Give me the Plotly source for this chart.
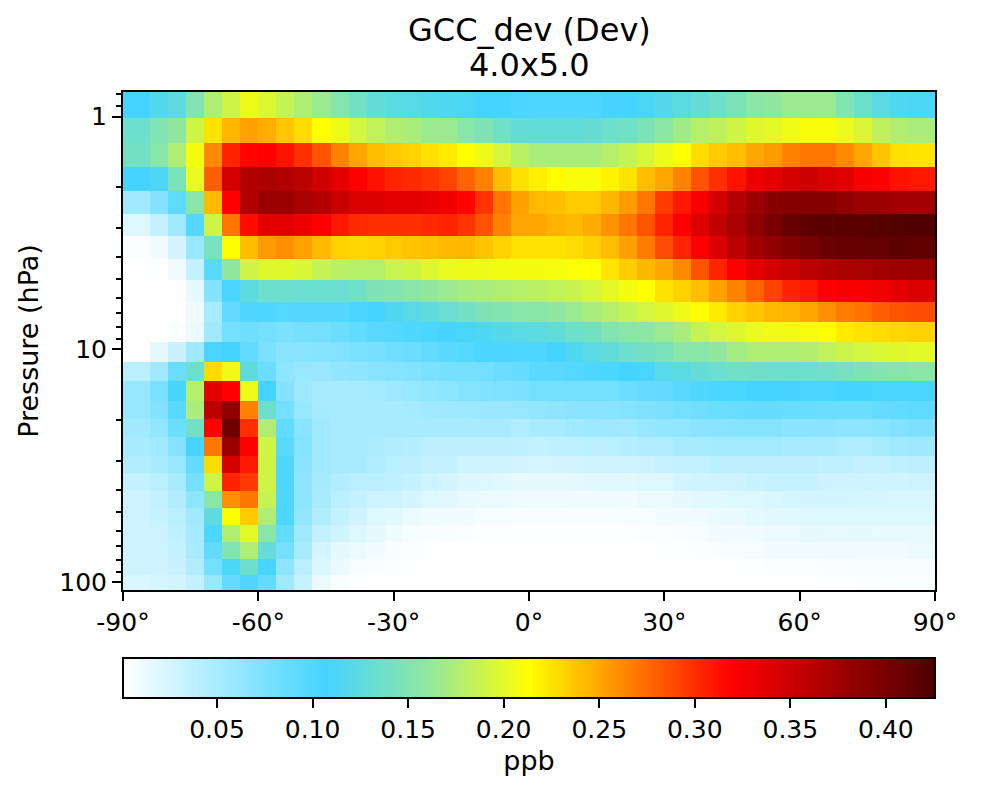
import math
import plotly.graph_objects as go

lat_edges = [-90] + list(range(-84, 85, 4)) + [90]
p_edges = [0.785, 1.015, 1.30, 1.647, 2.088, 2.62, 3.26, 4.09, 5.03, 6.25, 7.62, 9.29, 11.3,
           13.65, 16.6, 19.9, 23.7, 28.6, 33.9, 40.5, 47.9, 56.6, 67.0, 79.3, 92.9, 107.7]

r00 = [.107,.118,.125,.15,.175,.19,.205,.197,.185,.175,.165,.152,.14,.13,.123,.12,.117,.115,.112,.108,.107,.103,
       .10,.10,.10,.102,.106,.107,.112,.118,.124,.13,.137,.146,.157,.16,.165,.165,.165,.15,.135,.122,.115,.112]
r01 = [.135,.15,.16,.19,.225,.243,.252,.247,.237,.228,.213,.205,.192,.183,.175,.172,.165,.165,.155,.148,.138,.13,
       .128,.128,.128,.13,.135,.138,.146,.158,.168,.178,.182,.19,.198,.201,.206,.21,.21,.204,.195,.182,.175,.172]
r02 = [.14,.155,.175,.208,.262,.305,.318,.32,.312,.3,.285,.265,.25,.24,.235,.232,.226,.222,.213,.205,.193,.18,
       .172,.172,.172,.172,.178,.185,.195,.205,.213,.228,.235,.24,.25,.255,.265,.27,.27,.262,.25,.237,.226,.224]
r03 = [.108,.113,.145,.203,.28,.345,.365,.37,.365,.36,.347,.335,.32,.312,.305,.302,.298,.292,.278,.265,.24,.226,
       .22,.214,.21,.21,.218,.225,.24,.25,.265,.285,.30,.312,.33,.335,.345,.348,.342,.338,.325,.32,.312,.31]
r04 = [.055,.07,.092,.155,.242,.32,.365,.38,.38,.372,.365,.352,.343,.34,.335,.335,.333,.327,.318,.298,.27,.252,
       .242,.24,.235,.235,.243,.255,.27,.295,.31,.325,.345,.365,.378,.39,.393,.393,.393,.385,.38,.378,.375,.375]
r05 = [.02,.035,.055,.098,.19,.27,.315,.335,.337,.33,.32,.31,.302,.3,.3,.3,.302,.305,.298,.285,.265,.25,
       .25,.245,.242,.248,.258,.27,.285,.305,.32,.34,.355,.37,.385,.40,.41,.415,.417,.418,.418,.42,.422,.424]
r06 = [.003,.008,.025,.06,.143,.213,.24,.255,.26,.252,.242,.232,.23,.232,.235,.238,.24,.242,.243,.238,.232,.225,
       .225,.225,.228,.233,.24,.253,.268,.288,.305,.32,.34,.36,.375,.385,.395,.40,.408,.41,.412,.413,.415,.413]
r07 = [.001,.002,.008,.035,.095,.16,.19,.198,.198,.195,.185,.18,.178,.178,.187,.19,.197,.203,.205,.205,.207,.208,
       .208,.209,.211,.213,.224,.234,.243,.25,.262,.285,.305,.32,.335,.345,.353,.36,.365,.37,.372,.375,.378,.38]
r08 = [.0008,.001,.002,.015,.07,.105,.125,.135,.135,.133,.133,.133,.138,.148,.15,.155,.16,.165,.17,.172,.175,.178,
       .18,.183,.186,.192,.2,.208,.213,.225,.232,.24,.252,.265,.278,.292,.305,.31,.32,.323,.325,.328,.335,.34]
r09 = [.001,.001,.001,.01,.05,.09,.10,.10,.098,.098,.098,.098,.105,.107,.115,.12,.125,.132,.14,.147,.15,.155,
       .155,.16,.165,.172,.178,.185,.192,.198,.205,.214,.222,.232,.237,.242,.245,.25,.26,.268,.272,.28,.285,.288]
r10 = [.001,.001,.003,.012,.055,.08,.082,.08,.076,.078,.08,.084,.09,.095,.098,.10,.103,.106,.11,.114,.118,.122,
       .125,.128,.135,.14,.15,.155,.158,.165,.172,.185,.192,.197,.203,.206,.207,.209,.213,.222,.225,.228,.23,.232]
r11 = [.001,.015,.032,.055,.105,.108,.09,.075,.068,.068,.07,.072,.075,.078,.082,.084,.09,.094,.098,.104,.103,.10,
       .10,.107,.115,.122,.128,.135,.14,.145,.155,.155,.16,.17,.175,.175,.175,.177,.183,.188,.192,.196,.198,.20]
r12 = [.04,.055,.085,.135,.228,.205,.125,.085,.065,.06,.058,.062,.065,.068,.07,.072,.075,.078,.08,.08,.084,.087,
       .095,.095,.098,.10,.103,.107,.11,.12,.123,.13,.133,.138,.137,.135,.135,.135,.138,.142,.146,.15,.153,.155]
r13 = [.06,.075,.105,.178,.335,.32,.205,.107,.07,.056,.05,.05,.05,.052,.056,.06,.062,.066,.07,.072,.074,.075,
       .08,.08,.08,.08,.08,.085,.088,.09,.095,.10,.103,.105,.107,.108,.106,.105,.105,.107,.108,.11,.11,.11]
r14 = [.06,.072,.095,.172,.36,.385,.265,.135,.08,.06,.052,.05,.05,.05,.05,.052,.054,.056,.057,.058,.058,.06,
       .063,.065,.067,.068,.068,.07,.073,.075,.08,.082,.085,.086,.087,.087,.086,.086,.085,.085,.085,.088,.09,.092]
r15 = [.055,.063,.085,.14,.32,.405,.30,.175,.09,.068,.055,.05,.05,.05,.05,.05,.05,.05,.05,.05,.05,.045,
       .05,.05,.055,.057,.056,.055,.06,.062,.064,.067,.068,.07,.07,.07,.068,.068,.067,.065,.065,.068,.072,.075]
r16 = [.05,.055,.07,.107,.27,.38,.32,.19,.095,.07,.055,.05,.05,.048,.045,.043,.04,.04,.04,.04,.04,.038,
       .035,.037,.038,.04,.04,.042,.045,.046,.05,.05,.052,.053,.053,.053,.05,.05,.05,.047,.047,.05,.055,.056]
r17 = [.045,.05,.06,.09,.228,.345,.31,.19,.10,.068,.055,.05,.05,.045,.04,.04,.035,.035,.03,.03,.028,.027,
       .024,.025,.027,.028,.028,.03,.03,.033,.035,.036,.04,.04,.04,.04,.04,.04,.037,.037,.035,.035,.038,.04]
r18 = [.035,.04,.05,.08,.19,.305,.295,.19,.10,.065,.052,.045,.04,.04,.037,.035,.03,.025,.022,.02,.018,.015,
       .015,.015,.016,.017,.018,.018,.02,.02,.025,.028,.03,.03,.032,.033,.033,.033,.03,.03,.03,.028,.028,.03]
r19 = [.03,.035,.045,.065,.155,.26,.27,.185,.10,.065,.05,.04,.035,.03,.03,.025,.02,.017,.014,.013,.012,.01,
       .01,.01,.009,.009,.009,.009,.012,.012,.015,.017,.018,.02,.02,.022,.024,.025,.025,.025,.024,.024,.023,.023]
r20 = [.03,.033,.04,.055,.125,.213,.235,.175,.10,.062,.045,.035,.028,.02,.018,.012,.01,.008,.008,.006,.006,.005,
       .005,.005,.005,.005,.005,.006,.006,.008,.008,.01,.012,.014,.016,.018,.018,.02,.02,.02,.02,.02,.02,.02]
r21 = [.03,.03,.038,.052,.102,.175,.20,.155,.09,.055,.035,.028,.02,.015,.01,.006,.005,.005,.003,.002,.002,.002,
       .002,.002,.002,.002,.002,.002,.003,.003,.005,.006,.008,.008,.01,.012,.013,.015,.014,.014,.015,.014,.014,.014]
r22 = [.03,.03,.035,.05,.09,.15,.175,.13,.08,.05,.025,.015,.012,.008,.005,.003,.002,.001,.001,.001,.001,.001,
       .001,.001,.001,.001,.001,.001,.001,.002,.002,.004,.005,.006,.007,.008,.008,.008,.01,.01,.01,.01,.01,.012]
r23 = [.028,.028,.032,.045,.08,.112,.135,.105,.065,.04,.022,.012,.006,.005,.003,.002,.001,.001,.001,.001,.001,.001,
       .001,.001,.001,.001,.001,.001,.001,.001,.001,.001,.001,.002,.002,.003,.003,.004,.005,.005,.006,.006,.006,.006]
r24 = [.022,.024,.026,.035,.06,.09,.10,.09,.055,.033,.012,.005,.002,.001,.001,.001,.001,.001,.001,.001,.001,.001,
       .001,.001,.001,.001,.001,.001,.001,.001,.001,.001,.001,.001,.001,.001,.001,.001,.002,.002,.003,.003,.004,.004]

z = [r00, r01, r02, r03, r04, r05, r06, r07, r08, r09, r10, r11, r12,
     r13, r14, r15, r16, r17, r18, r19, r20, r21, r22, r23, r24]

x_ticks = [-90, -60, -30, 0, 30, 60, 90]
x_labels = ["-90°", "-60°", "-30°", "0°", "30°", "60°", "90°"]
y_ticks = [1, 10, 100]
cb_ticks = [0.05, 0.10, 0.15, 0.20, 0.25, 0.30, 0.35, 0.40]
cb_labels = ["0.05", "0.10", "0.15", "0.20", "0.25", "0.30", "0.35", "0.40"]
title_lines = ["GCC_dev (Dev)", "4.0x5.0"]
cscale = [[0, "#ffffff"], [0.25, "#44d4ff"], [0.375, "#90e8a0"], [0.5, "#ffff00"],
          [0.75, "#ff0000"], [1, "#4d0000"]]

FONT = "DejaVu Sans"
tickf = dict(family=FONT, size=25, color="black")
labf = dict(family=FONT, size=27, color="black")
titlef = dict(family=FONT, size=32, color="black")
fig = go.Figure(go.Heatmap(
    x=lat_edges, y=p_edges, z=z, zmin=0.0008, zmax=0.4257, colorscale=cscale, zsmooth=False,
    colorbar=dict(
        orientation="h", thickness=40, thicknessmode="pixels", len=812, lenmode="pixels",
        x=0, xanchor="left", xref="paper", y=-0.1365, yanchor="top", yref="paper",
        outlinecolor="black", outlinewidth=2, ticks="outside", ticklen=9, tickwidth=2, tickcolor="black",
        tickvals=cb_ticks, ticktext=cb_labels, tickfont=tickf,
        title=dict(text="ppb", side="bottom", font=labf),
        xpad=0, ypad=0,
    ),
))
fig.update_layout(
    width=973, height=778, paper_bgcolor="white", plot_bgcolor="white",
    margin=dict(l=115, r=46, t=84, b=196, autoexpand=False),
    font=dict(family=FONT, size=25, color="black"),
    annotations=[
        dict(text=title_lines[0], x=0.5, y=1, xref="paper", yref="paper", xanchor="center", yanchor="middle",
             yshift=62, showarrow=False, font=titlef),
        dict(text=title_lines[1], x=0.5, y=1, xref="paper", yref="paper", xanchor="center", yanchor="middle",
             yshift=27, showarrow=False, font=titlef),
    ],
    xaxis=dict(range=[-90, 90], tickvals=x_ticks, ticktext=x_labels, ticks="outside", ticklen=9, tickwidth=2,
               tickcolor="black", showline=True, linecolor="black", linewidth=2, mirror=True, showgrid=False,
               zeroline=False, tickfont=tickf),
    yaxis=dict(type="log", range=[math.log10(p_edges[-1]), math.log10(p_edges[0])], tickvals=y_ticks,
               ticktext=["1", "10", "100"], ticks="outside", ticklen=9, tickwidth=2, tickcolor="black",
               showline=True, linecolor="black", linewidth=2, mirror=True, showgrid=False, zeroline=False,
               tickfont=tickf,
               title=dict(text="Pressure (hPa)", font=labf, standoff=13),
               minor=dict(ticks="outside", ticklen=5, tickwidth=1.5, tickcolor="black", dtick="D1", showgrid=False)),
)
fig.write_html("out.html")
